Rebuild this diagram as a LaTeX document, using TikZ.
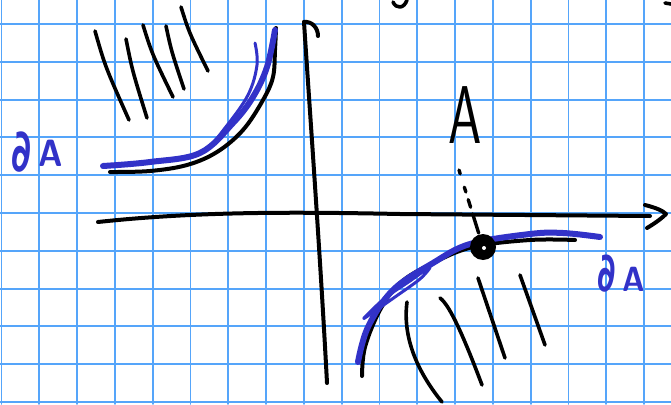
\documentclass[tikz,border=0pt]{standalone}
\usepackage{graphicx}
\usepackage{fontspec}
\newfontfamily\symfont{DejaVu Sans}
\definecolor{gridblue}{RGB}{85,165,250}
\definecolor{penblue}{RGB}{50,50,200}
\newcommand{\bigdel}{\scalebox{1.1}[1.55]{\symfont\bfseries ∂}}
\begin{document}
\begin{tikzpicture}[
  x=1pt, y=-1pt,
  line cap=round, line join=round,
  grid line/.style={gridblue, line width=1.9pt},
  pen/.style={black, line width=4pt},
  hatch/.style={black, line width=3.6pt},
  marker/.style={penblue, line width=6pt},
  thin marker/.style={penblue, line width=3pt},
  every node/.style={inner sep=0pt}
]
\useasboundingbox (0,0) rectangle (671,404);
\fill[white] (0,0) rectangle (671,404);

% squared paper
\foreach \k in {0,...,17}
  \draw[grid line] ({1.5+37.8*\k},0) -- ({1.5+37.8*\k},404);
\foreach \k in {0,...,10}
  \draw[grid line] (0,{24+37.8*\k}) -- (671,{24+37.8*\k});

% axes
\draw[pen] (98,222) .. controls (200,211) and (300,212) .. (400,214) -- (650,216);
\draw[pen] (645,205) .. controls (657,208) and (663,211) .. (666,214)
  .. controls (660,220) and (652,225) .. (647,228);
\draw[pen] (327,383) .. controls (320,250) and (309,100) .. (304,22);
\draw[pen] (304,22) .. controls (312,21) and (318,28) .. (318,36);

% bits cut off at the top
\draw[hatch] (393,2) .. controls (396,9) and (404,9) .. (407,0);
\draw[hatch] (665,3) -- (671,4);

% upper left branch
\foreach \a/\b/\c/\d in {95/31/129/120, 126/39/147/118, 143/25/173/97,
                         166/26/184/89, 181/7/208/71}
  \draw[hatch] (\a,\b) .. controls ({\a+0.3*(\c-\a)},{\b+0.4*(\d-\b)}) .. (\c,\d);
\draw[pen] plot[smooth, tension=0.6] coordinates
  {(110,172) (150,171) (187,165) (217,152) (243,130) (263,100) (273,77) (275,50) (276,28)};
\draw[marker] plot[smooth, tension=0.6] coordinates
  {(103,166) (150,162) (200,153) (233,123) (253,97) (267,67) (275,30)};
\draw[thin marker] plot[smooth, tension=0.6] coordinates
  {(255,43) (257,65) (248,95) (225,128) (205,150) (180,158)};

% lower right branch
\draw[hatch] (407,302) .. controls (402,340) and (420,375) .. (442,402);
\draw[hatch] (440,298) .. controls (450,305) and (465,340) .. (482,385);
\draw[hatch] (478,278) -- (505,358);
\draw[hatch] (520,275) -- (545,345);
\draw[pen] plot[smooth, tension=0.6] coordinates
  {(362,376) (365,347) (380,310) (400,283) (433,263) (473,247) (530,240) (575,240)};
\draw[marker] plot[smooth, tension=0.6] coordinates
  {(358,362) (368,327) (393,290) (433,263) (470,244) (530,234) (563,233) (600,237)};
\draw[thin marker] plot[smooth cycle, tension=0.5] coordinates
  {(364,318) (385,298) (410,281) (430,267) (420,279) (395,297) (372,313)};

% point on the boundary
\node[circle, fill=black, minimum size=26pt] (pt) at (483,247) {};
\fill[white] (484,248) circle (2);
\coordinate (dtop) at (459,170);
\draw[black, line width=3.4pt, dash pattern=on 4pt off 14pt on 5pt off 8pt on 8pt off 7pt on 20pt off 2pt]
  (dtop) -- (pt);

% labels
\node[font=\sffamily\bfseries\fontsize{82}{82}\selectfont, xscale=0.65] (lblA) at (465,115) {\mdseries A};
\node[text=penblue, font=\sffamily\bfseries\fontsize{38}{38}\selectfont, xscale=0.88]
  (dAleft) at (37,152) {\raisebox{-5pt}{\bigdel}\hspace{8pt}A};
\node[text=penblue, font=\sffamily\bfseries\fontsize{35}{35}\selectfont, xscale=0.88]
  (dAright) at (621,274) {\bigdel\hspace{7pt}A};
\end{tikzpicture}
\end{document}
